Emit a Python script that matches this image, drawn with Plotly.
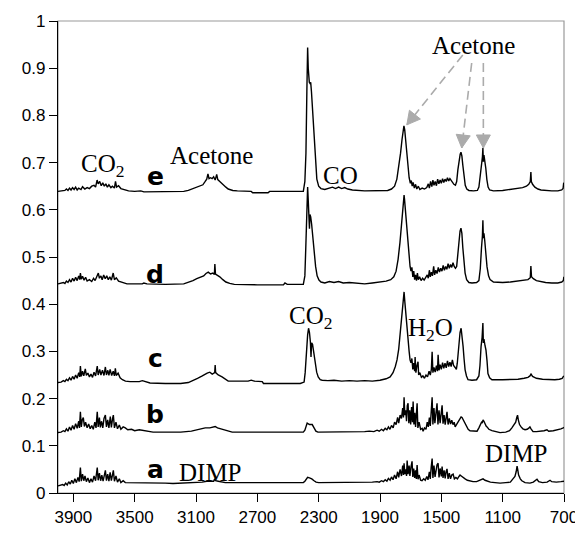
import plotly.graph_objects as go

# ---------------- data: (wavenumber cm-1, absorbance) ----------------
spec_e = [
(4000,.639),(3975,.640),(3955,.641),(3945,.644),(3935,.641),(3925,.646),(3915,.642),(3905,.647),
(3895,.643),(3885,.648),(3875,.642),(3865,.646),(3850,.643),(3840,.649),(3825,.644),(3810,.647),
(3795,.645),(3780,.650),(3765,.652),(3755,.648),(3745,.663),(3738,.655),(3728,.660),(3718,.651),
(3708,.657),(3698,.650),(3688,.655),(3678,.648),(3668,.653),(3655,.647),(3645,.650),(3632,.646),
(3625,.660),(3618,.648),(3605,.651),(3590,.645),(3575,.643),(3560,.641),(3540,.640),(3500,.639),
(3460,.640),(3440,.638),(3300,.638),(3180,.639),(3150,.641),(3120,.645),(3100,.648),(3075,.650),
(3055,.653),(3040,.660),(3030,.665),(3022,.676),(3015,.666),(3005,.668),(2995,.666),(2985,.670),
(2975,.663),(2965,.675),(2958,.664),(2945,.660),(2925,.655),(2905,.648),(2890,.644),(2860,.641),
(2830,.640),(2740,.639),(2730,.636),(2630,.636),(2620,.639),(2400,.639),(2390,.660),(2383,.720),
(2377,.850),(2372,.944),(2368,.900),(2365,.880),(2361,.870),(2357,.868),(2352,.870),(2347,.850),
(2340,.810),(2332,.760),(2322,.700),(2312,.665),(2300,.650),(2285,.645),(2260,.643),(2230,.646),
(2210,.648),(2190,.645),(2170,.648),(2150,.645),(2130,.647),(2110,.644),(2080,.642),(2000,.640),
(1900,.640),(1850,.641),(1825,.644),(1805,.650),(1790,.665),(1778,.690),(1766,.720),(1756,.750),
(1748,.772),(1744,.778),(1739,.770),(1733,.745),(1726,.715),(1718,.690),(1710,.668),(1702,.656),
(1696,.662),(1690,.650),(1684,.658),(1676,.646),(1668,.654),(1660,.644),(1650,.650),(1640,.643),
(1625,.646),(1610,.644),(1595,.647),(1585,.655),(1578,.646),(1570,.660),(1562,.649),(1555,.663),
(1548,.652),(1540,.660),(1532,.651),(1524,.665),(1516,.655),(1508,.663),(1500,.656),(1492,.666),
(1484,.658),(1476,.665),(1468,.660),(1460,.668),(1452,.661),(1444,.666),(1436,.662),(1428,.658),
(1418,.654),(1408,.652),(1400,.660),(1392,.685),(1384,.708),(1377,.718),(1372,.722),(1366,.714),
(1360,.695),(1352,.670),(1344,.652),(1334,.644),(1320,.641),(1290,.640),(1265,.641),(1255,.648),
(1246,.670),(1238,.700),(1232,.712),(1229,.731),(1226,.702),(1222,.716),(1217,.706),(1210,.688),
(1203,.664),(1195,.648),(1185,.642),(1160,.640),(1100,.641),(1050,.643),(1000,.645),(970,.647),
(945,.650),(930,.654),(920,.660),(916,.680),(913,.660),(905,.654),(890,.648),(870,.644),
(850,.642),(820,.641),(780,.640),(740,.640),(715,.642),(706,.645),(702,.657),(700,.656)]

spec_d = [
(4000,.443),(3975,.444),(3965,.446),(3955,.444),(3945,.449),(3935,.446),(3925,.452),(3915,.447),
(3905,.455),(3895,.449),(3885,.457),(3875,.450),(3865,.460),(3858,.452),(3854,.466),(3848,.453),
(3840,.459),(3830,.451),(3820,.457),(3810,.449),(3795,.452),(3780,.448),(3768,.455),(3758,.450),
(3745,.462),(3737,.466),(3730,.455),(3720,.460),(3712,.452),(3702,.462),(3692,.454),(3682,.460),
(3672,.452),(3662,.458),(3652,.451),(3640,.466),(3632,.452),(3620,.456),(3605,.449),(3590,.447),
(3570,.445),(3550,.443),(3450,.443),(3440,.445),(3420,.443),(3300,.442),(3180,.443),(3150,.446),
(3120,.450),(3095,.454),(3070,.457),(3050,.460),(3035,.465),(3020,.468),(3005,.464),(2990,.466),
(2980,.463),(2977,.485),(2973,.464),(2960,.462),(2945,.458),(2925,.452),(2905,.447),(2880,.444),
(2850,.442),(2700,.441),(2600,.441),(2530,.441),(2520,.445),(2505,.442),(2400,.442),(2390,.460),
(2384,.520),(2378,.600),(2372,.648),(2368,.620),(2364,.600),(2360,.560),(2357,.590),(2352,.585),
(2346,.570),(2338,.540),(2330,.510),(2320,.480),(2310,.460),(2298,.451),(2285,.447),(2260,.445),
(2230,.448),(2200,.446),(2170,.448),(2140,.445),(2100,.446),(2050,.444),(2000,.443),(1950,.445),
(1900,.447),(1860,.449),(1830,.452),(1810,.458),(1795,.470),(1782,.495),(1770,.530),(1760,.570),
(1752,.605),(1746,.625),(1743,.631),(1740,.622),(1734,.600),(1728,.575),(1722,.555),(1716,.525),
(1710,.495),(1704,.480),(1698,.470),(1692,.478),(1686,.458),(1680,.470),(1674,.452),(1668,.462),
(1662,.450),(1656,.466),(1650,.452),(1642,.458),(1632,.450),(1622,.455),(1612,.451),(1600,.458),
(1592,.462),(1585,.455),(1578,.472),(1572,.458),(1565,.468),(1558,.460),(1550,.480),(1544,.462),
(1536,.472),(1528,.465),(1520,.478),(1512,.468),(1504,.476),(1496,.470),(1488,.482),(1480,.472),
(1472,.480),(1464,.474),(1456,.486),(1448,.476),(1440,.484),(1432,.478),(1424,.488),(1416,.480),
(1408,.476),(1400,.480),(1393,.505),(1386,.535),(1378,.555),(1372,.561),(1366,.550),(1360,.520),
(1352,.487),(1345,.466),(1335,.452),(1320,.446),(1300,.445),(1270,.446),(1255,.450),(1246,.475),
(1238,.520),(1232,.545),(1229,.578),(1226,.540),(1222,.550),(1217,.535),(1210,.505),(1202,.479),
(1192,.460),(1182,.452),(1160,.447),(1100,.446),(1050,.447),(1000,.449),(960,.450),(935,.452),
(920,.456),(916,.481),(912,.458),(900,.454),(880,.450),(850,.448),(820,.446),(780,.445),
(740,.445),(715,.447),(704,.450),(701,.458),(700,.457)]

spec_c = [
(4000,.234),(3980,.235),(3965,.238),(3955,.236),(3945,.241),(3935,.238),(3925,.244),(3915,.239),
(3905,.247),(3895,.241),(3885,.250),(3875,.243),(3865,.255),(3858,.246),(3854,.269),(3848,.247),
(3840,.258),(3832,.248),(3822,.263),(3815,.249),(3805,.254),(3795,.246),(3785,.252),(3775,.245),
(3765,.256),(3755,.248),(3744,.269),(3738,.250),(3728,.262),(3720,.250),(3710,.260),(3700,.249),
(3691,.267),(3684,.250),(3675,.260),(3668,.249),(3660,.262),(3650,.249),(3640,.258),(3632,.248),
(3626,.264),(3620,.249),(3608,.254),(3595,.244),(3580,.240),(3560,.237),(3530,.236),(3470,.236),
(3450,.238),(3430,.236),(3400,.233),(3300,.232),(3200,.232),(3150,.234),(3118,.238),(3090,.243),
(3059,.248),(3040,.252),(3027,.254),(3010,.256),(2994,.252),(2978,.255),(2975,.271),(2972,.255),
(2955,.250),(2930,.246),(2909,.242),(2890,.237),(2850,.237),(2760,.237),(2740,.239),(2720,.237),
(2668,.236),(2660,.232),(2420,.232),(2395,.235),(2388,.255),(2380,.300),(2372,.335),(2366,.349),
(2360,.340),(2354,.320),(2350,.288),(2346,.318),(2340,.315),(2333,.300),(2323,.275),(2313,.256),
(2303,.246),(2290,.240),(2277,.239),(2240,.238),(2200,.239),(2150,.237),(2100,.238),(2050,.237),
(2000,.238),(1950,.237),(1900,.239),(1860,.242),(1834,.246),(1815,.255),(1800,.268),(1789,.282),
(1778,.305),(1769,.338),(1760,.365),(1754,.381),(1748,.410),(1743,.426),(1738,.405),(1732,.381),
(1726,.350),(1717,.324),(1710,.300),(1704,.282),(1698,.276),(1692,.285),(1686,.262),(1680,.275),
(1674,.258),(1671,.288),(1666,.255),(1660,.268),(1652,.278),(1648,.250),(1640,.255),(1630,.245),
(1620,.248),(1610,.243),(1600,.250),(1590,.246),(1580,.258),(1572,.250),(1565,.262),(1560,.299),
(1555,.255),(1548,.266),(1540,.256),(1532,.270),(1525,.258),(1521,.293),(1515,.260),(1508,.272),
(1500,.262),(1492,.276),(1484,.264),(1476,.275),(1468,.265),(1460,.280),(1452,.268),(1444,.277),
(1436,.268),(1428,.282),(1420,.270),(1410,.266),(1402,.262),(1396,.275),(1390,.300),(1384,.324),
(1378,.340),(1371,.349),(1365,.335),(1358,.310),(1352,.285),(1345,.261),(1336,.248),(1326,.240),
(1300,.239),(1270,.240),(1255,.248),(1248,.270),(1241,.310),(1234,.330),(1229,.360),(1226,.318),
(1222,.326),(1215,.312),(1209,.303),(1202,.280),(1196,.253),(1185,.244),(1170,.240),(1100,.240),
(1050,.240),(1000,.241),(960,.243),(935,.245),(922,.248),(915,.252),(905,.247),(880,.243),
(840,.241),(800,.240),(760,.240),(730,.241),(712,.243),(704,.247),(700,.248)]

spec_b = [
(4000,.128),(3980,.129),(3965,.132),(3955,.130),(3945,.136),(3935,.131),(3925,.140),(3915,.133),
(3905,.143),(3895,.135),(3885,.147),(3875,.137),(3865,.152),(3860,.138),(3854,.172),(3848,.140),
(3842,.155),(3835,.160),(3828,.141),(3820,.150),(3810,.138),(3800,.146),(3790,.136),(3780,.143),
(3770,.135),(3760,.150),(3752,.138),(3744,.172),(3738,.140),(3730,.160),(3724,.139),(3716,.152),
(3708,.138),(3700,.158),(3691,.165),(3684,.140),(3676,.155),(3668,.138),(3659,.162),(3652,.139),
(3644,.158),(3639,.165),(3632,.138),(3622,.150),(3612,.136),(3600,.144),(3590,.135),(3575,.140),
(3561,.138),(3545,.134),(3520,.135),(3500,.132),(3470,.134),(3450,.133),(3420,.131),(3380,.129),
(3300,.129),(3200,.129),(3130,.131),(3105,.133),(3070,.135),(3040,.138),(3010,.138),(2990,.140),
(2975,.141),(2960,.138),(2929,.135),(2900,.131),(2864,.129),(2700,.129),(2400,.129),(2390,.133),
(2380,.145),(2375,.148),(2360,.145),(2342,.145),(2330,.138),(2318,.131),(2305,.129),(2200,.129),
(2100,.129),(2000,.130),(1970,.131),(1940,.130),(1919,.133),(1905,.131),(1890,.135),(1878,.132),
(1866,.137),(1855,.134),(1845,.140),(1835,.135),(1825,.143),(1814,.138),(1805,.150),(1795,.145),
(1785,.160),(1778,.148),(1769,.165),(1760,.158),(1752,.180),(1747,.160),(1743,.203),(1738,.165),
(1732,.175),(1727,.152),(1722,.185),(1717,.190),(1712,.148),(1706,.175),(1700,.145),(1694,.182),
(1688,.150),(1684,.194),(1679,.145),(1673,.170),(1668,.140),(1662,.178),(1658,.190),(1653,.138),
(1645,.150),(1635,.135),(1625,.137),(1619,.131),(1610,.138),(1600,.135),(1592,.150),(1585,.140),
(1578,.160),(1572,.142),(1566,.175),(1560,.203),(1555,.145),(1548,.180),(1542,.148),(1535,.170),
(1528,.190),(1522,.145),(1515,.175),(1508,.148),(1500,.168),(1495,.186),(1489,.147),(1482,.165),
(1475,.145),(1469,.160),(1463,.172),(1456,.145),(1448,.158),(1440,.146),(1432,.154),(1424,.145),
(1416,.150),(1410,.140),(1400,.145),(1392,.150),(1385,.155),(1378,.158),(1371,.161),(1365,.160),
(1358,.155),(1350,.150),(1345,.148),(1335,.140),(1325,.135),(1313,.132),(1290,.131),(1267,.131),
(1255,.138),(1245,.145),(1238,.150),(1233,.148),(1228,.155),(1222,.152),(1215,.145),(1208,.142),
(1202,.140),(1190,.135),(1170,.132),(1140,.129),(1117,.128),(1080,.129),(1055,.132),(1040,.138),
(1025,.145),(1015,.150),(1008,.160),(1003,.165),(998,.155),(990,.145),(980,.140),(968,.136),
(954,.134),(940,.135),(928,.138),(922,.140),(915,.136),(902,.130),(880,.130),(850,.131),
(830,.132),(811,.134),(800,.131),(770,.132),(740,.134),(720,.136),(705,.138),(700,.139)]

spec_a = [
(4000,.015),(3985,.016),(3970,.018),(3960,.016),(3950,.021),(3940,.017),(3930,.024),(3920,.019),
(3910,.027),(3900,.020),(3890,.030),(3880,.022),(3870,.033),(3862,.024),(3854,.054),(3848,.025),
(3840,.040),(3832,.026),(3824,.036),(3815,.024),(3805,.032),(3795,.022),(3785,.030),(3775,.023),
(3765,.036),(3755,.026),(3744,.054),(3738,.027),(3730,.042),(3722,.026),(3714,.038),(3706,.025),
(3698,.040),(3691,.048),(3684,.026),(3676,.040),(3668,.025),(3660,.044),(3652,.026),(3645,.040),
(3639,.048),(3632,.025),(3622,.036),(3612,.023),(3600,.030),(3590,.022),(3575,.026),(3561,.022),
(3540,.022),(3500,.021),(3450,.022),(3400,.021),(3300,.021),(3250,.020),(3200,.021),(3150,.021),
(3100,.022),(3060,.023),(3030,.025),(3000,.026),(2985,.025),(2978,.030),(2972,.026),(2955,.025),
(2930,.023),(2909,.022),(2800,.022),(2700,.022),(2400,.022),(2390,.025),(2380,.031),(2372,.033),
(2360,.032),(2345,.030),(2330,.026),(2317,.023),(2300,.022),(2100,.022),(2000,.022),(1950,.023),
(1919,.024),(1905,.023),(1890,.026),(1878,.024),(1866,.028),(1855,.025),(1845,.031),(1834,.027),
(1825,.034),(1815,.028),(1805,.038),(1795,.030),(1785,.045),(1778,.033),(1769,.050),(1760,.036),
(1752,.058),(1747,.038),(1743,.063),(1738,.040),(1732,.050),(1727,.036),(1723,.069),(1717,.040),
(1710,.058),(1705,.036),(1698,.055),(1691,.067),(1686,.034),(1680,.052),(1674,.032),(1668,.048),
(1663,.030),(1658,.059),(1652,.029),(1645,.038),(1635,.027),(1626,.026),(1615,.030),(1605,.027),
(1595,.035),(1587,.028),(1578,.045),(1572,.030),(1566,.055),(1560,.073),(1555,.032),(1548,.058),
(1541,.034),(1535,.050),(1528,.060),(1521,.063),(1515,.033),(1508,.052),(1500,.035),(1495,.056),
(1489,.032),(1482,.048),(1475,.031),(1469,.045),(1463,.051),(1456,.030),(1448,.042),(1440,.030),
(1432,.038),(1423,.040),(1415,.030),(1405,.033),(1395,.030),(1385,.035),(1378,.038),(1370,.036),
(1360,.033),(1345,.030),(1330,.027),(1310,.025),(1293,.024),(1270,.024),(1250,.027),(1238,.030),
(1228,.030),(1215,.027),(1202,.025),(1180,.023),(1150,.022),(1117,.021),(1080,.022),(1050,.023),
(1033,.030),(1020,.035),(1012,.045),(1006,.057),(1002,.050),(996,.038),(985,.030),(975,.026),
(954,.022),(935,.021),(922,.021),(900,.023),(890,.026),(876,.029),(865,.024),(840,.022),
(810,.023),(791,.027),(780,.024),(750,.023),(720,.024),(700,.025)]

x_ticks = [3900, 3500, 3100, 2700, 2300, 1900, 1500, 1100, 700]
y_ticks = [0, 0.1, 0.2, 0.3, 0.4, 0.5, 0.6, 0.7, 0.8, 0.9, 1]
y_ticktext = ["0", "0.1", "0.2", "0.3", "0.4", "0.5", "0.6", "0.7", "0.8", "0.9", "1"]

# trace letters: (label, wavenumber, y)
letters = [("e", 3366, 0.671), ("d", 3366, 0.463), ("c", 3366, 0.285),
           ("b", 3366, 0.166), ("a", 3366, 0.050)]
# band labels: (text, wavenumber, y)
bands = [("Acetone", 1293, 0.949), ("CO<sub>2</sub>", 3711, 0.693), ("Acetone", 2997, 0.716),
         ("CO", 2160, 0.672), ("CO<sub>2</sub>", 2355, 0.372), ("H<sub>2</sub>O", 1570, 0.347),
         ("DIMP", 3007, 0.044), ("DIMP", 1010, 0.083)]
# arrows: (start wn, start y, tip wn, tip y, head outline in px around the tip)
arrows = [(1360, 0.928, 1725, 0.780, "M0,0 L2.6,14.6 L13.6,5.8 Z"),
          (1302, 0.911, 1367, 0.731, "M0,0 L-5.5,13.7 L8.5,12.1 Z"),
          (1226, 0.911, 1226, 0.731, "M0,0 L-7,13 L7,13 Z")]

fig = go.Figure()
for spec in [spec_a, spec_b, spec_c, spec_d, spec_e]:
    fig.add_trace(go.Scatter(x=[p[0] for p in spec], y=[p[1] for p in spec], mode="lines",
                             line=dict(color="black", width=1.4), showlegend=False,
                             hoverinfo="skip"))

shapes = [dict(type="rect", xref="paper", yref="paper", x0=0, x1=1, y0=0, y1=1,
               line=dict(color="#9a9a9a", width=1.2), layer="below")]
gray = "#ababab"
for sx, sy, tx, ty, head in arrows:
    shapes.append(dict(type="line", xref="x", yref="y", x0=sx, y0=sy, x1=tx, y1=ty,
                       line=dict(color=gray, width=1.6, dash="9px,5px")))
    shapes.append(dict(type="path", xref="x", yref="y", xsizemode="pixel", ysizemode="pixel",
                       xanchor=tx, yanchor=ty, path=head, fillcolor=gray,
                       line=dict(color=gray, width=1)))

annotations = []
for t, x, y in letters:
    annotations.append(dict(x=x, y=y, xref="x", yref="y", text="<b>" + t + "</b>",
                            showarrow=False,
                            font=dict(family="DejaVu Sans", size=25, color="black")))
for t, x, y in bands:
    annotations.append(dict(x=x, y=y, xref="x", yref="y", text=t, showarrow=False,
                            font=dict(family="Liberation Serif", size=25, color="black")))

# the page body adds an 8px offset, so margins are shifted to place the plot like the reference
fig.update_layout(
    width=583, height=536, margin=dict(l=50, r=27, t=13, b=51, autoexpand=False),
    paper_bgcolor="white", plot_bgcolor="white",
    shapes=shapes, annotations=annotations, showlegend=False,
    xaxis=dict(range=[4000, 700], tickvals=x_ticks, ticks="outside", ticklen=8,
               tickcolor="black", showline=True, linecolor="black", linewidth=1.3,
               showgrid=False, zeroline=False, automargin=False,
               tickfont=dict(family="Liberation Sans", size=17, color="black")),
    yaxis=dict(range=[0, 1], tickvals=y_ticks, ticktext=y_ticktext, ticks="outside",
               ticklen=8, tickcolor="black", showline=True, linecolor="black",
               linewidth=1.3, showgrid=False, zeroline=False, automargin=False,
               tickfont=dict(family="Liberation Sans", size=17, color="black")),
)
fig.write_html("out.html")
